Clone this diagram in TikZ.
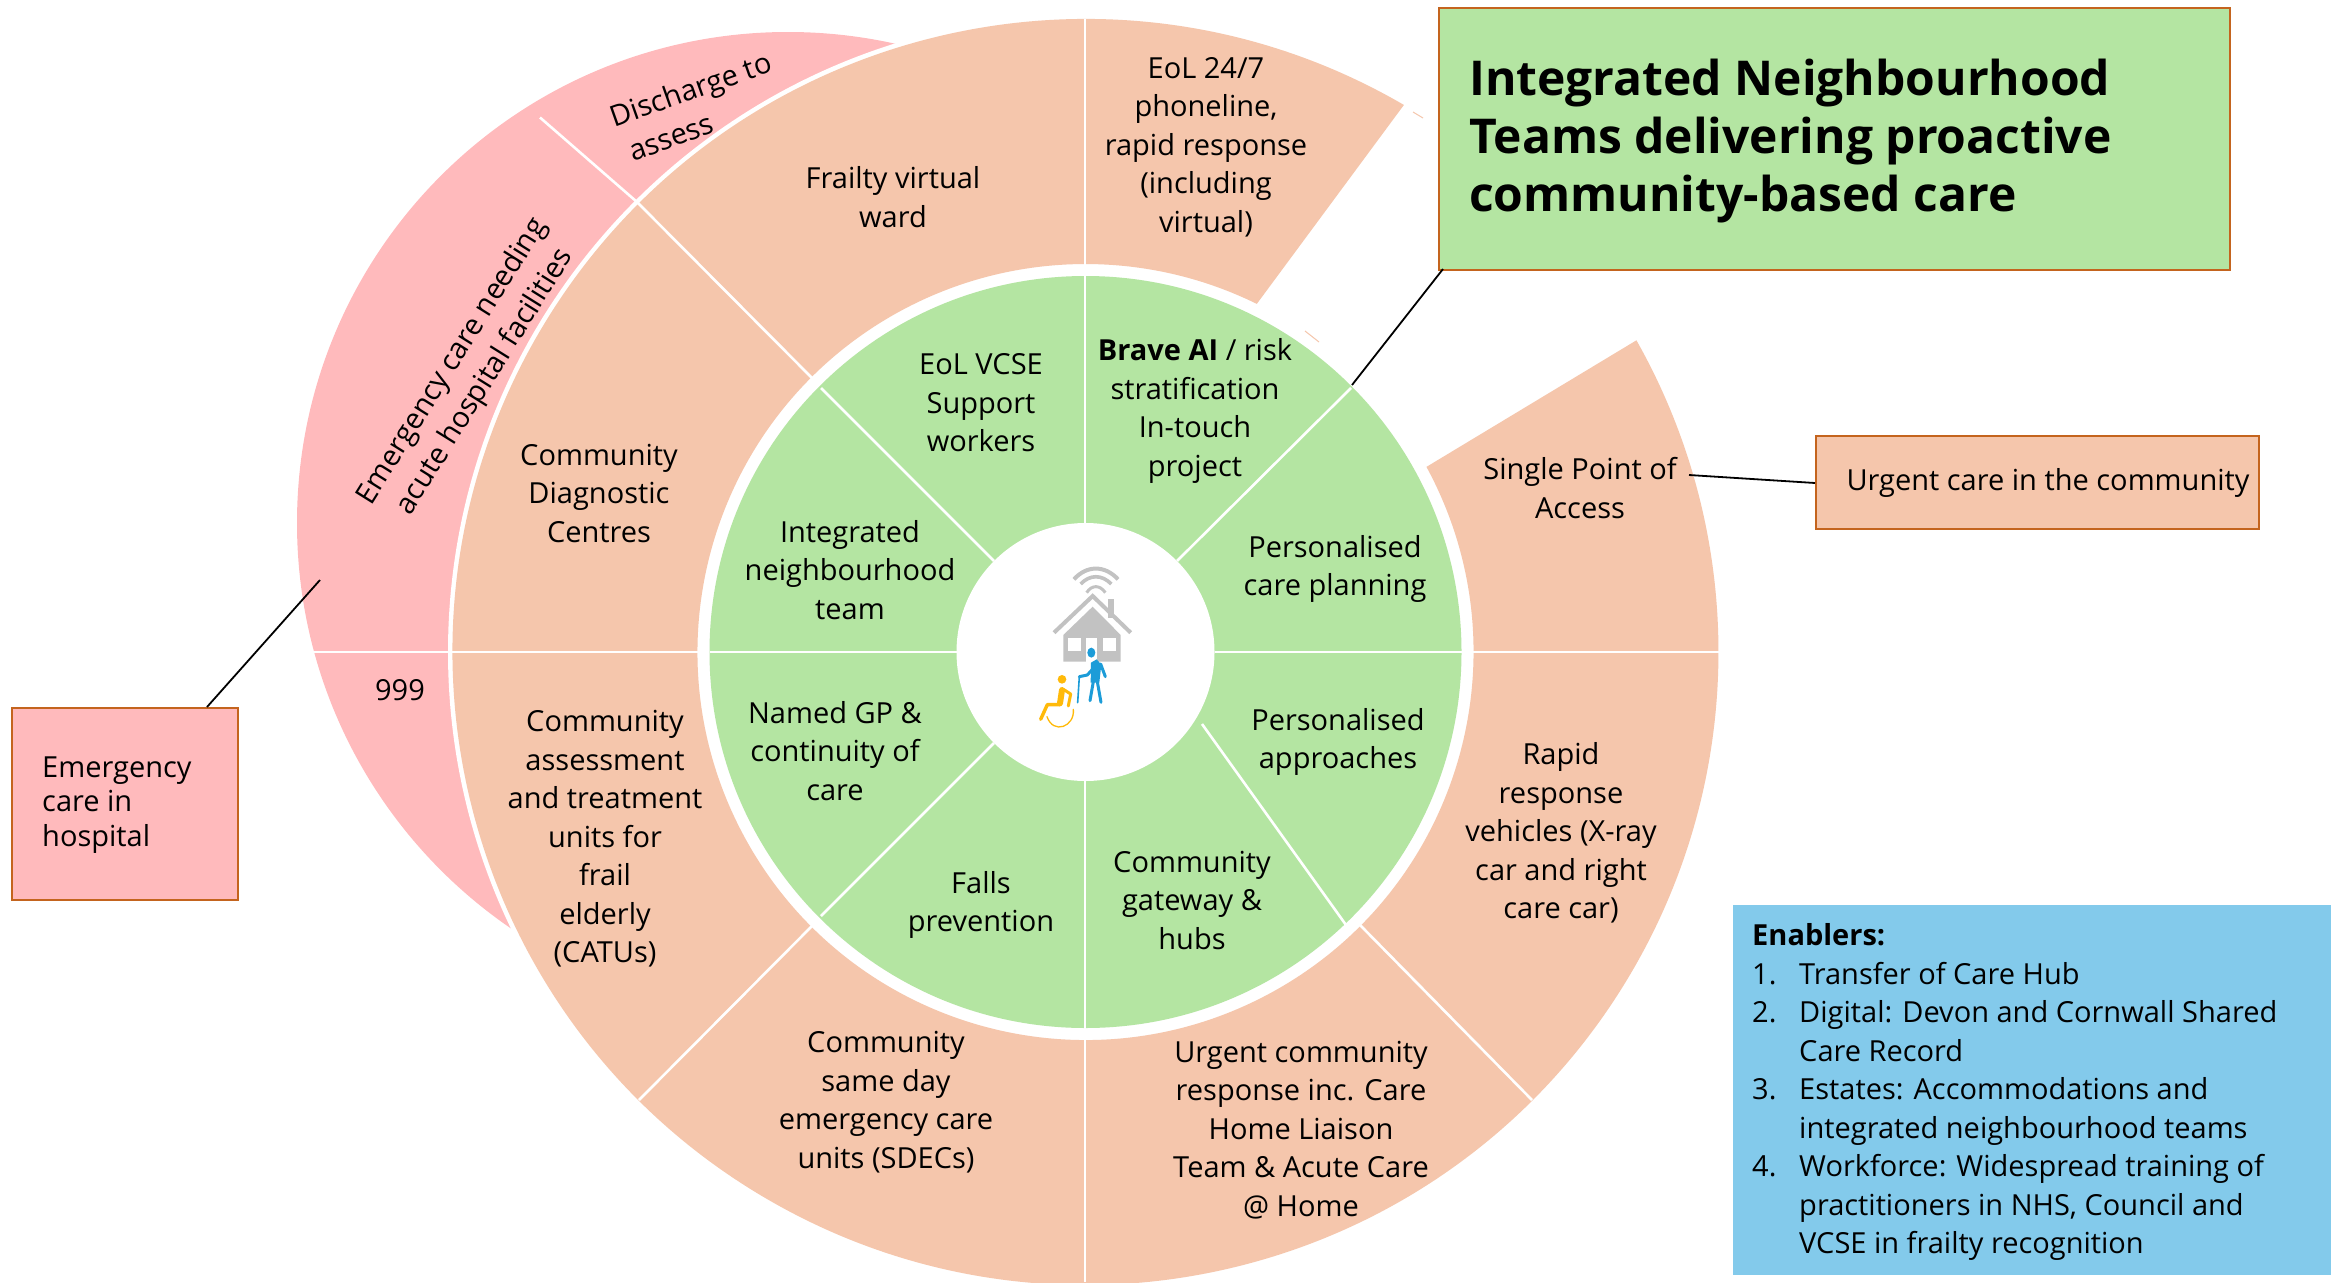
\documentclass[tikz,border=0pt]{standalone}
\usetikzlibrary{calc}
\usepackage{fontspec}
\setmainfont{Open Sans}
\definecolor{orangefill}{HTML}{F5C6AC}
\definecolor{greenfill}{HTML}{B4E5A2}
\definecolor{pinkfill}{HTML}{FFBABC}
\definecolor{bluefill}{HTML}{83CAEB}
\definecolor{edgeorange}{HTML}{C4641E}
\definecolor{housegrey}{HTML}{C2C2C2}
\definecolor{personblue}{HTML}{1C9CD8}
\definecolor{personyellow}{HTML}{FFBA0A}
\newcommand{\txt}{\fontsize{29}{38.5}\selectfont}
\tikzset{
  lab/.style={align=center,font=\txt,inner sep=0pt,text=black},
  radial/.style={draw=white,line width=2.6pt},
  callout/.style={draw=edgeorange,line width=1.6pt,inner sep=0pt},
  leader/.style={draw=black,line width=1.8pt},
}
\begin{document}
\begin{tikzpicture}[x=1pt,y=1pt]
\useasboundingbox (0,0) rectangle (2331,-1282);
\clip (0,0) rectangle (2331,-1282);
\coordinate (C) at (1085.5,-652);
% pink outer disc and white separator
\fill[pinkfill] (788,-523) circle[radius=491];
\fill[white] (C) circle[radius=637.5];
% orange ring
\fill[orangefill]
  ($(C)+(59.8:633)$) arc[start angle=59.8,end angle=389.5,radius=633]
  -- ($(C)+(28.5:388)$) arc[start angle=28.5,end angle=-296.2,radius=388] -- cycle;
% green disc and white hub
\fill[greenfill] (C) circle[radius=376];
\fill[white] (C) circle[radius=129];
% pink radial lines
\draw[radial] (540,-117.5) -- (637,-202);
\draw[radial] (312,-652) -- (450,-652);
% orange radial lines
\draw[radial] (637,-202) -- (813,-379);
\draw[radial] (1085,-19) -- (1085,-277);
\draw[radial] (450,-652) -- (700,-652);
\draw[radial] (1085,-1027) -- (1085,-1282);
\draw[radial] (1462,-652) -- (1721,-652);
\draw[radial] (1360,-925) -- (1532,-1100);
\draw[radial] (813,-925) -- (639,-1100);
% green radial lines
\draw[radial] (1085,-277) -- (1085,-525);
\draw[radial] (1085,-780) -- (1085,-1027);
\draw[radial] (710,-652) -- (958,-652);
\draw[radial] (1215,-652) -- (1462,-652);
\draw[radial] (1177,-561) -- (1351,-388);
\draw[radial] (994,-561) -- (821,-388);
\draw[radial] (994,-743) -- (821,-916);
\draw[radial] (1202,-724) -- (1346,-925);
% small remnants
\draw[orangefill,line width=1pt] (1305,-331) -- (1319,-342);
\draw[orangefill,line width=1pt] (1413,-112) -- (1423,-118);
% ring labels
\node[lab] (eol) at (1206,-147) {EoL 24/7\\phoneline,\\rapid response\\(including\\virtual)};
\node[lab] (frailty) at (893,-197) {Frailty virtual\\ward};
\node[lab] (cdc) at (599,-493) {Community\\Diagnostic\\Centres};
\node[lab] (catu) at (605,-839) {Community\\assessment\\and treatment\\units for\\frail\\elderly\\(CATUs)};
\node[lab] (sdec) at (886,-1102) {Community\\same day\\emergency care\\units (SDECs)};
\node[lab] (ucr) at (1301,-1130) {Urgent community\\response inc. Care\\Home Liaison\\Team \& Acute Care\\@ Home};
\node[lab] (rapid) at (1561,-833) {Rapid\\response\\vehicles (X-ray\\car and right\\care car)};
\node[lab] (spa) at (1580,-488) {Single Point of\\Access};
\node[lab] (n999) at (400,-690) {999};
\node[lab,rotate=19.5,align=left] (d2a) at (697,-107) {Discharge to\\\hspace*{6pt}assess};
\node[lab,rotate=58] (ecn) at (469,-372) {Emergency care needing\\acute hospital facilities};
% green labels
\node[lab] (vcse) at (981,-403) {EoL VCSE\\Support\\workers};
\node[lab] (brave) at (1195,-411) {\textbf{Brave AI} / risk\\stratification\\In-touch\\project};
\node[lab] (pcp) at (1335,-569) {Personalised\\care planning};
\node[lab] (pa) at (1338,-742) {Personalised\\approaches};
\node[lab] (hubs) at (1192,-900) {Community\\gateway \&\\hubs};
\node[lab] (falls) at (981,-905) {Falls\\prevention};
\node[lab] (gp) at (835,-751) {Named GP \&\\continuity of\\care};
\node[lab] (int) at (850,-570) {Integrated\\neighbourhood\\team};
% callout boxes
\node[callout,fill=greenfill,minimum width=791pt,minimum height=262pt,anchor=north west] (title) at (1438,-7) {};
\node[anchor=west,align=left,inner sep=0pt,font=\fontsize{48}{58}\selectfont\bfseries] (titletext) at (1469,-141) {Integrated Neighbourhood\\Teams delivering proactive\\community-based care};
\node[callout,fill=orangefill,minimum width=443pt,minimum height=93pt,anchor=north west] (urgent) at (1815,-435) {};
\node[lab,anchor=center] (urgenttext) at (2048,-483) {Urgent care in the community};
\node[callout,fill=pinkfill,minimum width=226pt,minimum height=192pt,anchor=north west] (hosp) at (11,-707) {};
\node[anchor=west,align=left,inner sep=0pt,font=\fontsize{29}{34.5}\selectfont] (hosptext) at (42,-805) {Emergency\\care in\\hospital};
% enablers
\node[fill=bluefill,minimum width=598pt,minimum height=370pt,anchor=north west,inner sep=0pt] (enablers) at (1733,-905) {};
\node[anchor=north west,align=left,inner sep=0pt,font=\txt] (enablerstext) at (1752,-923.5) {\textbf{Enablers:}\\
\makebox[47pt][l]{1.}Transfer of Care Hub\\
\makebox[47pt][l]{2.}Digital: Devon and Cornwall Shared\\
\hspace*{47pt}Care Record\\
\makebox[47pt][l]{3.}Estates: Accommodations and\\
\hspace*{47pt}integrated neighbourhood teams\\
\makebox[47pt][l]{4.}Workforce: Widespread training of\\
\hspace*{47pt}practitioners in NHS, Council and\\
\hspace*{47pt}VCSE in frailty recognition};
% connectors
\coordinate (gtip) at (1352,-385);
\coordinate (ptip) at (320,-580);
\coordinate (htop) at (207,-707);
\coordinate (ttop) at (1443,-269);
\coordinate (stip) at (1689,-475);
\coordinate (uleft) at (1815,-483);
\draw[leader] (ttop) -- (gtip);
\draw[leader] (stip) -- (uleft);
\draw[leader] (htop) -- (ptip);
% hub icon
\begin{scope}[shift={(980,-540)},x=0.3333pt,y=-0.3333pt]
  \draw[housegrey,line width=4pt] (282,118) .. controls (320,75) and (375,75) .. (414,118);
  \draw[housegrey,line width=3.6pt] (302,132) .. controls (330,103) and (365,103) .. (394,132);
  \draw[housegrey,line width=3pt] (320,158) .. controls (335,134) and (360,134) .. (376,158);
  \fill[housegrey] (385,178) rectangle (403,235);
  \draw[housegrey,line width=4pt,miter limit=4] (222,278) -- (338,168) -- (452,278);
  \fill[housegrey] (338,200) -- (250,285) -- (250,365) -- (422,365) -- (422,285) -- cycle;
  \fill[white] (265,295) rectangle (303,332);
  \fill[white] (370,295) rectangle (408,332);
  \fill[white] (318,295) rectangle (352,365);
  \begin{scope}[personblue,line cap=round,line join=round]
    \fill (334,338) ellipse[x radius=12,y radius=15];
    \fill (333,368) -- (350,358) -- (364,374) -- (358,428) -- (332,428) -- cycle;
    \draw[line width=3pt] (362,372) -- (376,410);
    \draw[line width=3pt] (340,385) -- (322,405) -- (298,410);
    \draw[line width=3pt] (340,425) -- (330,482);
    \draw[line width=3pt] (352,425) -- (363,487);
    \draw[line width=1.6pt] (298,410) -- (293,488);
  \end{scope}
  \begin{scope}[personyellow,line cap=round,line join=round]
    \fill (246,418) circle[radius=13];
    \draw[line width=6pt] (246,450) -- (240,490);
    \draw[line width=3pt] (250,448) -- (272,462) -- (265,498);
    \draw[line width=3.4pt] (240,494) -- (202,494) -- (182,538);
    \draw[line width=1.3pt] (280,508) .. controls (285,560) and (220,585) .. (201,530);
  \end{scope}
\end{scope}
\end{tikzpicture}
\end{document}
